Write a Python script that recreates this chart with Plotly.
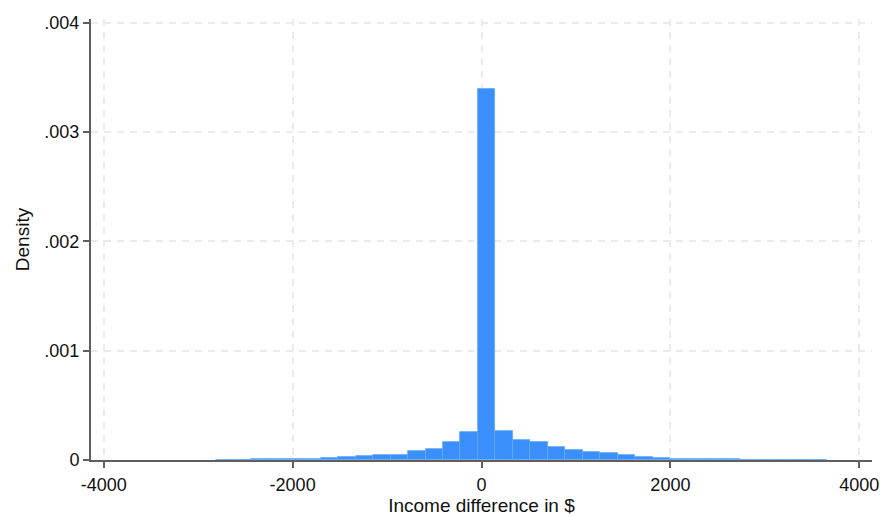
import plotly.graph_objects as go

# Histogram of income differences: bin layout and density per bin
bin_start = -2813
bin_width = 185
densities = [
    0.000003, 0.000004, 0.000005, 0.000006, 0.000008,
    0.000012, 0.000020, 0.000030, 0.000040, 0.000048,
    0.000050, 0.000080, 0.000103, 0.000167, 0.000260,
    0.003390,
    0.000268, 0.000185, 0.000161, 0.000122, 0.000094,
    0.000070, 0.000060, 0.000042, 0.000030, 0.000020,
    0.000012, 0.000009, 0.000006, 0.000005, 0.000004,
    0.000004, 0.000003, 0.000002, 0.000002,
]

x_tick_vals = [-4000, -2000, 0, 2000, 4000]
x_tick_text = ["-4000", "-2000", "0", "2000", "4000"]
y_tick_vals = [0, 0.001, 0.002, 0.003, 0.004]
y_tick_text = ["0", ".001", ".002", ".003", ".004"]

centers = [bin_start + bin_width * (i + 0.5) for i in range(len(densities))]

fig = go.Figure(
    go.Bar(
        x=centers,
        y=densities,
        width=bin_width,
        marker=dict(color="#3a8ffa", line=dict(color="#62a8fb", width=0.8)),
        hoverinfo="x+y",
    )
)

axis_color = "#5f5f5f"
grid_color = "#ebebeb"
family = "Liberation Sans, Arial, sans-serif"
font = dict(family=family, size=18, color="#111111")
title_font = dict(family=family, size=19, color="#111111")

fig.update_layout(
    width=880,
    height=516,
    margin=dict(l=91, r=8, t=19, b=56),
    paper_bgcolor="white",
    plot_bgcolor="white",
    font=font,
    showlegend=False,
    bargap=0,
)

fig.update_xaxes(
    automargin=False,
    range=[-4135, 4135],
    tickvals=x_tick_vals,
    ticktext=x_tick_text,
    ticks="outside",
    ticklen=6,
    tickwidth=1.5,
    tickcolor=axis_color,
    ticklabelstandoff=1,
    showline=True,
    linecolor=axis_color,
    linewidth=2,
    showgrid=True,
    gridcolor=grid_color,
    gridwidth=1.5,
    griddash="7px,6px",
    zeroline=False,
    title=dict(text="Income difference in $", font=title_font, standoff=4),
)

fig.update_yaxes(
    automargin=False,
    range=[0, 0.004034],
    tickvals=y_tick_vals,
    ticktext=y_tick_text,
    ticks="outside",
    ticklen=6,
    tickwidth=1.5,
    tickcolor=axis_color,
    showline=True,
    linecolor=axis_color,
    linewidth=2,
    showgrid=True,
    gridcolor=grid_color,
    gridwidth=1.5,
    griddash="7px,6px",
    zeroline=False,
    title=dict(text="Density", font=title_font, standoff=10),
)

fig.write_html("out.html")
